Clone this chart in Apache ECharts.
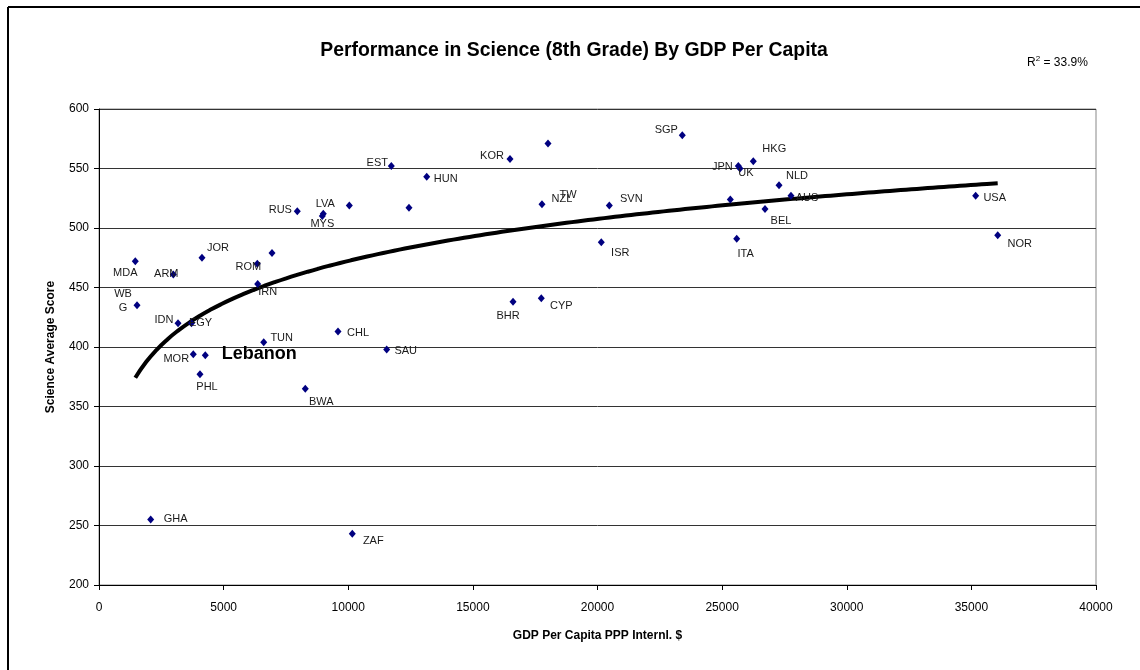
<!DOCTYPE html>
<html>
<head>
<meta charset="utf-8">
<title>Performance in Science by GDP Per Capita</title>
<script src="https://cdn.jsdelivr.net/npm/echarts@6/dist/echarts.min.js"></script>
<style>
  html, body { margin: 0; padding: 0; background: #fff; }
  #chart { width: 1140px; height: 670px; }
</style>
</head>
<body>
<div id="chart"></div>
<script>
// country codes, label shown next to each point ('' = no label)
const codes = ['MDA', 'ARM', 'WBG', 'JOR', 'ROM', 'BGR', 'IRN', 'IDN', 'EGY', 'MOR',
  'LBN', 'PHL', 'TUN', 'CHL', 'BWA', 'SAU', 'GHA', 'ZAF', 'RUS', 'LVA',
  'MYS', 'LTU', 'EST', 'SVK', 'HUN', 'KOR', 'NZL', 'TW', 'SGP', 'HKG',
  'JPN', 'UK', 'NLD', 'AUS', 'SWE', 'BEL', 'SVN', 'ISR', 'ITA', 'BHR',
  'CYP', 'USA', 'NOR']
const labelText = ['MDA', 'ARM', 'WB\nG', 'JOR', 'ROM', '', 'IRN', 'IDN', 'EGY', 'MOR',
  'Lebanon', 'PHL', 'TUN', 'CHL', 'BWA', 'SAU', 'GHA', 'ZAF', 'RUS', 'LVA',
  'MYS', '', 'EST', '', 'HUN', 'KOR', 'NZL', 'TW', 'SGP', 'HKG',
  'JPN', 'UK', 'NLD', 'AUS', '', 'BEL', 'SVN', 'ISR', 'ITA', 'BHR',
  'CYP', 'USA', 'NOR']
// GDP per capita (PPP, international $)
const gdpPerCapita = [1456, 2981, 1525, 4132, 6351, 6941, 6367, 3170, 3711, 3783,
  4265, 4052, 6608, 9589, 8277, 11543, 2074, 10162, 7956, 8999,
  8959, 10042, 11727, 12437, 13147, 16489, 17773, 18014, 23402, 26250,
  25649, 25717, 27282, 27763, 25328, 26720, 20473, 20152, 25585, 16610,
  17745, 35173, 36056]
// science average score, 8th grade
const scienceScore = [472, 461, 435, 475, 470, 479, 453, 420, 420, 394,
  393, 377, 404, 413, 365, 398, 255, 243, 514, 512,
  510, 519, 552, 517, 543, 558, 520, 571, 578, 556,
  552, 550, 536, 527, 524, 516, 519, 488, 491, 438,
  441, 527, 494]

const xTicks = { min: 0, max: 40000, step: 5000 }
const yTicks = { min: 200, max: 600, step: 50 }
const rSquaredText = '33.9%'

// label placement: offset of label centre from the point, in px
const labelOffsets = {
  MDA: [-10, 12], ARM: [-7, 0], WBG: [-14, -4], JOR: [16, -10], ROM: [-9, 3],
  IRN: [10, 8], IDN: [-14, -3], EGY: [9, 0], MOR: [-17, 5], LBN: [54, -1],
  PHL: [7, 13], TUN: [18, -4], CHL: [20, 1], BWA: [16, 13], SAU: [19, 2],
  GHA: [25, -1], ZAF: [21, 7], RUS: [-17, -1], LVA: [2, -10], MYS: [0, 8],
  EST: [-14, -3], HUN: [19, 2], KOR: [-18, -3], NZL: [20, -5], TW: [20, 51],
  SGP: [-16, -5], HKG: [21, -12], JPN: [-16, 1], UK: [6, 4], NLD: [18, -9],
  AUS: [16, 2], BEL: [16, 12], SVN: [22, -6], ISR: [19, 11], ITA: [9, 15],
  BHR: [-5, 14], CYP: [20, 8], USA: [19, 2], NOR: [22, 9]
}

const FONT = '"Liberation Sans", Arial, sans-serif'

// logarithmic trend line (least squares on ln x), like Excel's
const fitLog = (xs, ys) => {
  const lx = xs.map(v => Math.log(v))
  const n = xs.length
  const mx = lx.reduce((s, v) => s + v, 0) / n
  const my = ys.reduce((s, v) => s + v, 0) / n
  let sxy = 0
  let sxx = 0
  for (let i = 0; i < n; i++) {
    sxy += (lx[i] - mx) * (ys[i] - my)
    sxx += (lx[i] - mx) * (lx[i] - mx)
  }
  const b = sxy / sxx
  return { a: my - b * mx, b }
}

const fit = fitLog(gdpPerCapita, scienceScore)
const xLo = Math.min(...gdpPerCapita)
const xHi = Math.max(...gdpPerCapita)
const trendData = []
for (let i = 0; i <= 80; i++) {
  const x = xLo + (xHi - xLo) * i / 80
  trendData.push([x, fit.a + fit.b * Math.log(x)])
}

const pointData = codes.map((code, i) => {
  const off = labelOffsets[code] || [0, 0]
  const isLebanon = code === 'LBN'
  return {
    name: code,
    value: [gdpPerCapita[i], scienceScore[i]],
    label: {
      show: labelText[i] !== '',
      formatter: labelText[i],
      position: 'inside',
      align: 'center',
      verticalAlign: 'middle',
      offset: off,
      color: isLebanon ? '#000' : '#1a1a1a',
      textBorderWidth: 0,
      fontFamily: FONT,
      fontSize: isLebanon ? 18 : 11,
      fontWeight: isLebanon ? 'bold' : 'normal',
      lineHeight: 14
    }
  }
})

const chart = echarts.init(document.getElementById('chart'), null, { renderer: 'canvas' })

const option = {
  backgroundColor: '#fff',
  animation: false,
  title: {
    text: 'Performance in Science (8th Grade) By GDP Per Capita',
    left: 569,
    textAlign: 'center',
    top: 36,
    textStyle: {
      fontFamily: FONT,
      fontSize: 19.4,
      fontWeight: 'bold',
      color: '#000'
    }
  },
  grid: {
    left: 99,
    right: 44,
    top: 109,
    bottom: 85,
    show: true,
    borderColor: '#888',
    borderWidth: 1,
    backgroundColor: '#fff'
  },
  xAxis: {
    type: 'value',
    min: xTicks.min,
    max: xTicks.max,
    interval: xTicks.step,
    name: 'GDP Per Capita PPP Internl. $',
    nameLocation: 'middle',
    nameGap: 45,
    nameTextStyle: { fontFamily: FONT, fontSize: 12, fontWeight: 'bold', color: '#000' },
    axisLine: { lineStyle: { color: '#000', width: 1 } },
    axisTick: { show: true, length: 5, lineStyle: { color: '#000' } },
    axisLabel: {
      margin: 17,
      fontFamily: FONT,
      fontSize: 12,
      color: '#000',
      formatter: v => String(v)
    },
    splitLine: { show: false }
  },
  yAxis: {
    type: 'value',
    min: yTicks.min,
    max: yTicks.max,
    interval: yTicks.step,
    name: 'Science Average Score',
    nameLocation: 'middle',
    nameGap: 42,
    nameTextStyle: { fontFamily: FONT, fontSize: 12, fontWeight: 'bold', color: '#000' },
    axisLine: { show: true, lineStyle: { color: '#000', width: 1 } },
    axisTick: { show: true, length: 5, lineStyle: { color: '#000' } },
    axisLabel: { margin: 10, fontFamily: FONT, fontSize: 12, color: '#000' },
    splitLine: { show: true, lineStyle: { color: '#333', width: 1 } }
  },
  graphic: [
    // outer chart frame (left and top edges)
    { type: 'line', shape: { x1: 8, y1: 7, x2: 8, y2: 670 }, style: { stroke: '#000', lineWidth: 2 } },
    { type: 'line', shape: { x1: 8, y1: 7, x2: 1140, y2: 7 }, style: { stroke: '#000', lineWidth: 2 } },
    {
      type: 'text',
      left: 1027,
      top: 55,
      style: {
        text: '{r|R}{sup|2}{r| = ' + rSquaredText + '}',
        rich: {
          r: { fontFamily: FONT, fontSize: 12, fill: '#000', verticalAlign: 'bottom' },
          sup: { fontFamily: FONT, fontSize: 8, fill: '#000', padding: [0, 0, 6, 0] }
        }
      }
    }
  ],
  series: [
    {
      name: 'Trend',
      type: 'line',
      data: trendData,
      smooth: true,
      showSymbol: false,
      silent: true,
      z: 1,
      lineStyle: { color: '#000', width: 4 }
    },
    {
      name: 'Countries',
      type: 'scatter',
      data: pointData,
      symbol: 'diamond',
      symbolSize: [7, 8],
      z: 3,
      itemStyle: { color: '#000080', opacity: 1 }
    }
  ]
}

chart.setOption(option)

window.addEventListener('resize', () => chart.resize())
</script>
</body>
</html>
